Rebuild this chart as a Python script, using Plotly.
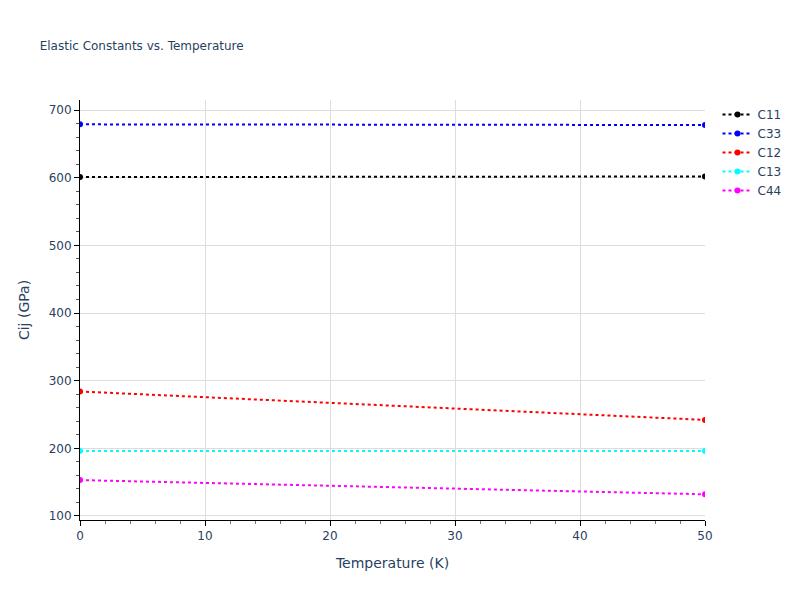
import plotly.graph_objects as go

temperature = [0, 50]
c11 = [601, 602]
c33 = [679, 678]
c12 = [284, 242]
c13 = [196, 196]
c44 = [153, 132]
names = ["C11", "C33", "C12", "C13", "C44"]
colors = ["black", "blue", "red", "cyan", "magenta"]
series = [c11, c33, c12, c13, c44]

fig = go.Figure()
for n, c, s in zip(names, colors, series):
    fig.add_trace(go.Scatter(x=temperature, y=s, name=n, mode="lines+markers",
                             line=dict(color=c, dash="dot", width=2),
                             marker=dict(color=c, size=6)))

axis_common = dict(showline=True, linecolor="black", linewidth=1, ticks="outside",
                   tickcolor="black", ticklen=5, showgrid=True, gridcolor="#dddddd",
                   zeroline=False, mirror=False, tickfont=dict(size=12))
fig.update_layout(
    template="plotly_white",
    font=dict(family="DejaVu Sans"),
    width=792, height=592,
    margin=dict(l=72, t=92, b=80, r=95),
    title=dict(text="Elastic Constants vs. Temperature", x=0.04, xanchor="left",
               y=0.944, font=dict(size=12)),
    xaxis=dict(title=dict(text="Temperature (K)", font=dict(size=14)), range=[0, 50],
               dtick=10, minor=dict(ticks="outside", dtick=2, ticklen=3, tickcolor="#777"),
               **axis_common),
    yaxis=dict(title=dict(text="Cij (GPa)", font=dict(size=14)), range=[94, 715],
               dtick=100, minor=dict(ticks="outside", dtick=20, ticklen=3, tickcolor="#555"),
               **axis_common),
    legend=dict(font=dict(size=12)),
)
fig.write_html("out.html")
